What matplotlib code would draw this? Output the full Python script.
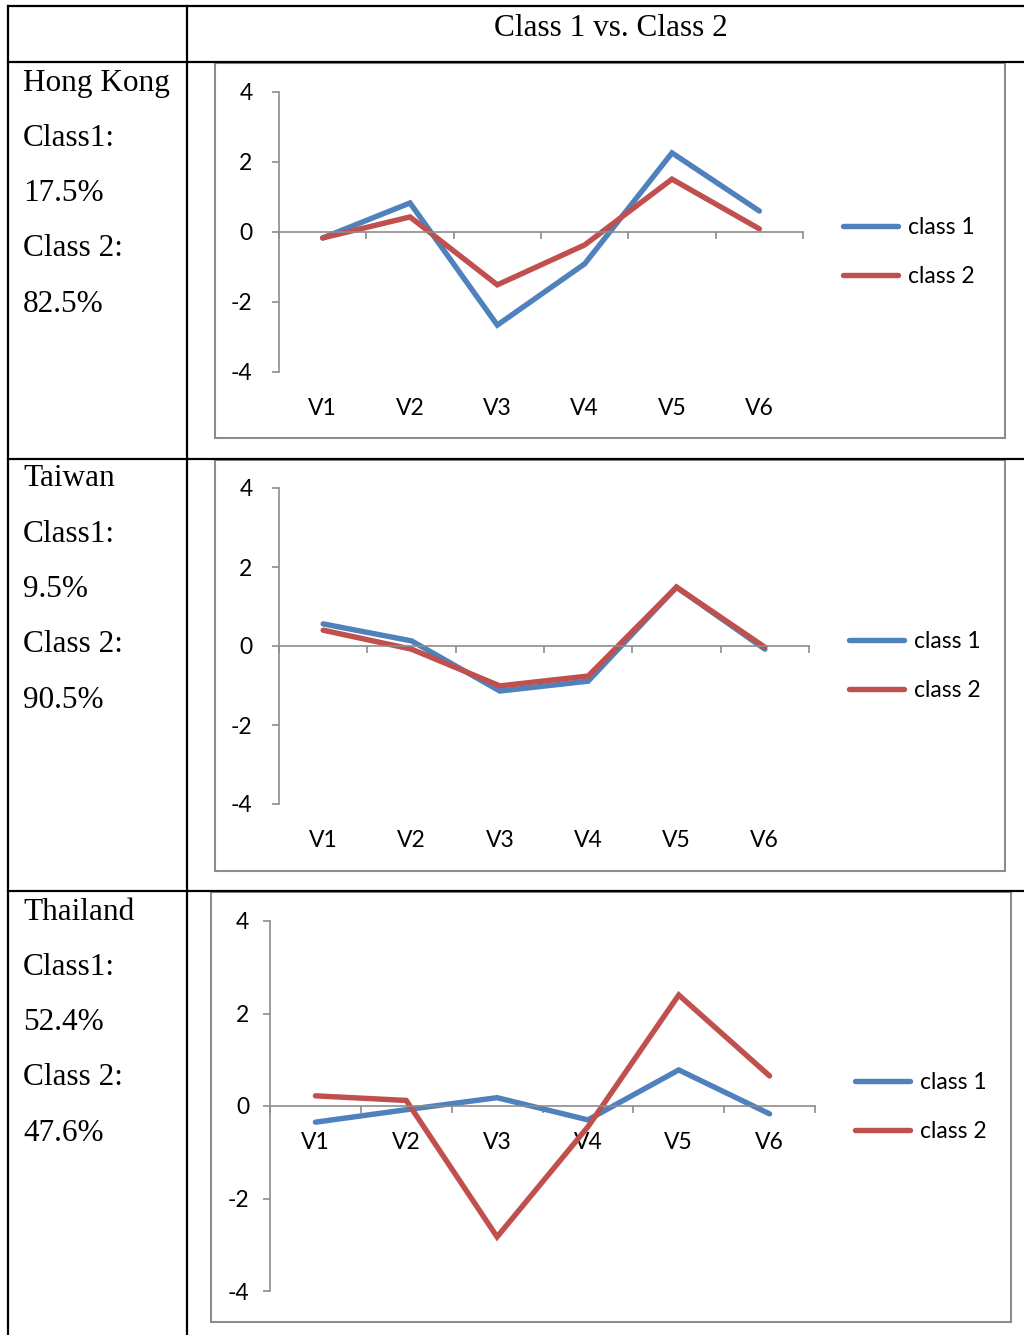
import matplotlib
matplotlib.use("Agg")
import matplotlib.pyplot as plt
from matplotlib.lines import Line2D
from matplotlib.patches import Rectangle
import numpy as np

W, H = 1024, 1335

variables = ["V1", "V2", "V3", "V4", "V5", "V6"]
series_names = ["class 1", "class 2"]

regions = ["Hong Kong", "Taiwan", "Thailand"]
class1_share = ["17.5%", "9.5%", "52.4%"]
class2_share = ["82.5%", "90.5%", "47.6%"]

hk_class1 = [-0.17, 0.83, -2.66, -0.91, 2.26, 0.60]
hk_class2 = [-0.17, 0.43, -1.51, -0.37, 1.51, 0.09]
tw_class1 = [0.56, 0.13, -1.14, -0.89, 1.49, -0.08]
tw_class2 = [0.40, -0.08, -1.01, -0.76, 1.49, -0.03]
th_class1 = [-0.35, -0.08, 0.18, -0.30, 0.78, -0.17]
th_class2 = [0.22, 0.12, -2.83, -0.45, 2.40, 0.65]

y_ticks = [-4, -2, 0, 2, 4]
header = "Class 1 vs. Class 2"

c_blue = "#4F81BD"
c_red = "#C0504D"
c_gray = "#8C8C8C"
chart_font = ["Lato", "DejaVu Sans"]
serif_font = ["Liberation Serif", "DejaVu Serif"]
fs_chart = 16.5
fs_serif = 22.5


def fx(x):
    return x / W


def fy(y):
    return 1 - y / H


def rect(x0, y0, x1, y1):
    return [fx(x0), fy(y1), (x1 - x0) / W, (y1 - y0) / H]


fig = plt.figure(figsize=(W / 100, H / 100), dpi=100)
fig.patch.set_facecolor("white")

# table grid
black = dict(color="black", lw=1.6, solid_capstyle="projecting")
fig.add_artist(Line2D([fx(8), fx(1024)], [fy(6), fy(6)], **black))
fig.add_artist(Line2D([fx(8), fx(1024)], [fy(62), fy(62)], **black))
fig.add_artist(Line2D([fx(8), fx(1024)], [fy(459), fy(459)], **black))
fig.add_artist(Line2D([fx(8), fx(1024)], [fy(891), fy(891)], **black))
fig.add_artist(Line2D([fx(8), fx(8)], [fy(6), fy(1335)], **black))
fig.add_artist(Line2D([fx(187), fx(187)], [fy(6), fy(1335)], **black))

fig.text(fx(611), fy(28), header, ha="center", va="center",
         fontsize=fs_serif, family=serif_font)

# per panel layout: box, plot area, legend anchor, label position, text rows
panels = [
    dict(data=(hk_class1, hk_class2), box=(215, 63, 1005, 438),
         plot=(279, 92, 803, 372), leg=(843, 252), low=True, text_y=83, ypad=14),
    dict(data=(tw_class1, tw_class2), box=(215, 460, 1005, 871),
         plot=(279, 488, 809, 804), leg=(849, 666), low=True, text_y=479, ypad=14),
    dict(data=(th_class1, th_class2), box=(211, 892, 1011, 1322),
         plot=(270, 921, 815, 1291), leg=(855, 1107), low=False, text_y=912, ypad=10),
]

x = np.arange(len(variables))

for i, p in enumerate(panels):
    # left column text
    lines = [regions[i], "Class1:", class1_share[i], "Class 2:", class2_share[i]]
    for k, t in enumerate(lines):
        fig.text(fx(23), fy(p["text_y"] + k * 55.3), t, ha="left", va="center",
                 fontsize=fs_serif, family=serif_font)

    # chart frame
    bx0, by0, bx1, by1 = p["box"]
    fig.add_artist(Rectangle((fx(bx0), fy(by1)), (bx1 - bx0) / W, (by1 - by0) / H,
                             transform=fig.transFigure, fill=False,
                             edgecolor=c_gray, lw=1.5))

    ax = fig.add_axes(rect(*p["plot"]))
    ax.set_facecolor("none")
    lns = []
    for vals, col, name in zip(p["data"], (c_blue, c_red), series_names):
        ln, = ax.plot(x, vals, color=col, lw=3.9, label=name,
                      solid_capstyle="round", solid_joinstyle="miter")
        lns.append(ln)

    ax.set_xlim(-0.5, len(variables) - 0.5)
    ax.set_ylim(-4, 4)
    for s in ("top", "right"):
        ax.spines[s].set_visible(False)
    ax.spines["left"].set_color(c_gray)
    ax.spines["left"].set_linewidth(1.2)
    ax.spines["bottom"].set_position(("data", 0))
    ax.spines["bottom"].set_color(c_gray)
    ax.spines["bottom"].set_linewidth(1.2)

    ax.set_yticks(y_ticks)
    ax.set_yticklabels([str(v) for v in y_ticks])
    ax.tick_params(axis="y", length=5, width=1.2, color=c_gray, pad=p["ypad"],
                   labelsize=fs_chart, labelcolor="black")
    for lab in ax.get_yticklabels():
        lab.set_family(chart_font)

    ax.set_xticks(np.arange(len(variables) + 1) - 0.5, minor=True)
    ax.tick_params(axis="x", which="minor", length=5, width=1.2, color=c_gray)
    ax.set_xticks(x)
    if p["low"]:
        ax.set_xticklabels([])
        ax.tick_params(axis="x", which="major", length=0)
        sec = ax.secondary_xaxis("bottom")
        sec.set_xticks(x)
        sec.set_xticklabels(variables)
        sec.spines["bottom"].set_visible(False)
        sec.tick_params(length=0, pad=19, labelsize=fs_chart)
        for lab in sec.get_xticklabels():
            lab.set_family(chart_font)
    else:
        ax.set_xticklabels(variables)
        ax.tick_params(axis="x", which="major", length=0, pad=19, labelsize=fs_chart)
        for lab in ax.get_xticklabels():
            lab.set_family(chart_font)

    lx, ly = p["leg"]
    fig.legend(handles=lns, loc="center left", bbox_to_anchor=(fx(lx), fy(ly)),
               frameon=False, borderpad=0, borderaxespad=0, handlelength=2.4,
               handletextpad=0.45, labelspacing=1.2,
               prop=dict(family=chart_font, size=fs_chart))

fig.savefig("out.png", dpi=100)
